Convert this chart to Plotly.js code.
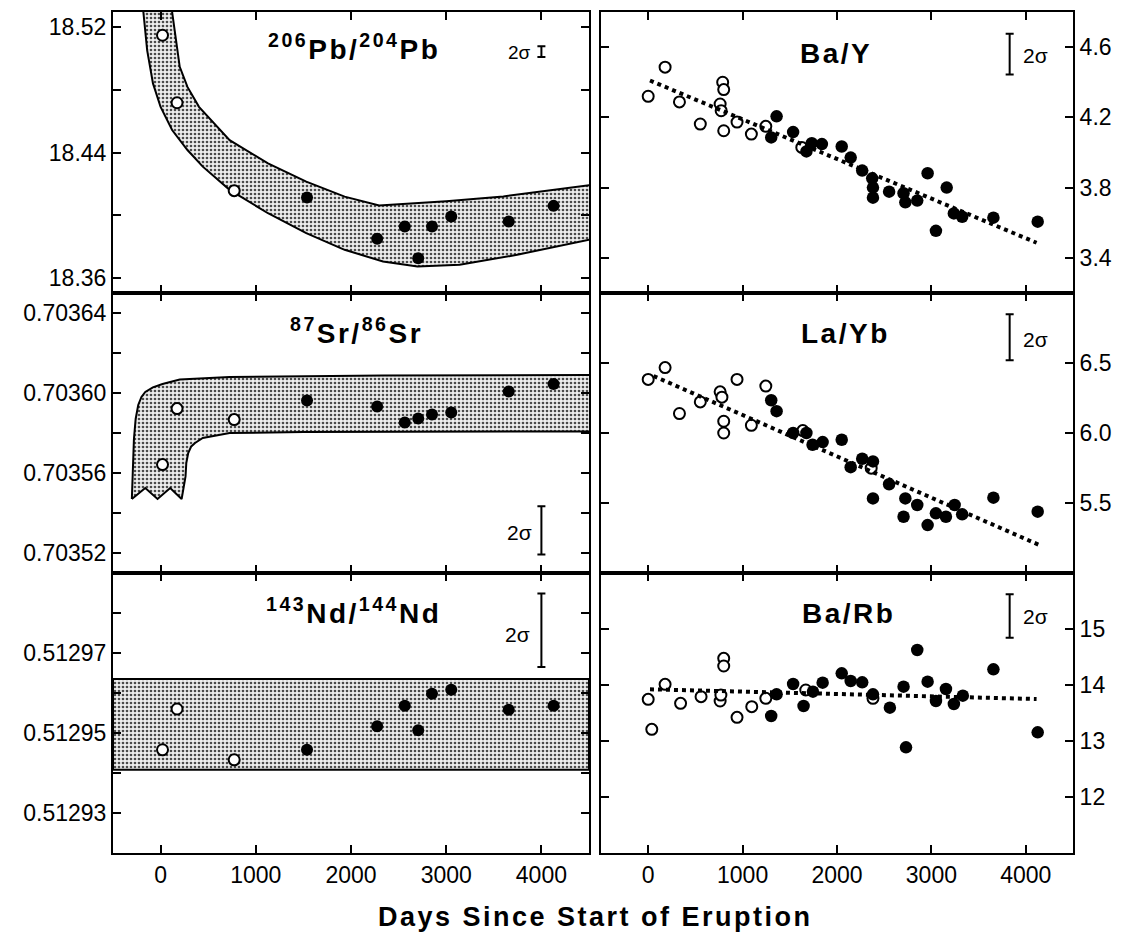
<!DOCTYPE html>
<html><head><meta charset="utf-8">
<script src="https://cdn.plot.ly/plotly-3.0.1.min.js"></script>
<style>
html,body{margin:0;padding:0;background:#fff;}
#chart{width:1125px;height:934px;}
text tspan[style*="bold"]{letter-spacing:2.5px;}
</style></head><body><div id="chart"></div>
<script>
// ---------- shared x ticks ----------
const xTicks = [0, 1000, 2000, 3000, 4000];
const xTickLabels = ['0', '1000', '2000', '3000', '4000'];

// ---------- 206Pb/204Pb ----------
const pbOpenX = [20, 173, 773];
const pbOpenY = [18.5147, 18.4717, 18.4157];
const pbFillX = [1538, 2275, 2565, 2706, 2851, 3053, 3657, 4128];
const pbFillY = [18.4113, 18.385, 18.3928, 18.3727, 18.3928, 18.3992, 18.396, 18.406];
const pbBandUpperX = [100, 121, 201, 282, 403, 564, 725, 1128, 1530, 1933, 2296, 3000, 3600, 4550];
const pbBandUpperY = [18.58, 18.5295, 18.4946, 18.4818, 18.4691, 18.4585, 18.4479, 18.4331, 18.4214, 18.4119, 18.4062, 18.409, 18.412, 18.4195];
const pbBandLowerX = [4550, 3745, 3141, 2698, 2336, 1933, 1530, 1128, 725, 443, 282, 121, 0, -80, -141, -181, -200];
const pbBandLowerY = [18.385, 18.3748, 18.3685, 18.3674, 18.3706, 18.378, 18.3886, 18.4013, 18.4162, 18.431, 18.4416, 18.4543, 18.469, 18.484, 18.505, 18.5295, 18.58];

// ---------- 87Sr/86Sr ----------
const srOpenX = [20, 173, 773];
const srOpenY = [0.7035642, 0.7035922, 0.7035867];
const srFillX = [1538, 2275, 2565, 2706, 2851, 3053, 3657, 4128];
const srFillY = [0.7035963, 0.7035933, 0.7035853, 0.7035872, 0.7035893, 0.7035903, 0.7036008, 0.7036045];
const srBandX = [-302, -292, -280, -262, -235, -201, -161, -81, 20, 201, 725, 2336, 4550,
                 4550, 1500, 725, 443, 362, 322, 290, 270, 262, 221,
                 101, -32, -161, -302];
const srBandY = [0.703547, 0.703562, 0.703577, 0.703587, 0.703594, 0.703598, 0.7036005, 0.7036028, 0.7036045, 0.7036067, 0.703608, 0.7036088, 0.703609,
                 0.7035808, 0.7035805, 0.70358, 0.7035775, 0.703575, 0.7035733, 0.70357, 0.703565, 0.7035583, 0.703547,
                 0.7035525, 0.703547, 0.7035525, 0.703547];

// ---------- 143Nd/144Nd ----------
const ndOpenX = [20, 173, 773];
const ndOpenY = [0.5129458, 0.512956, 0.5129433];
const ndFillX = [1538, 2275, 2565, 2706, 2851, 3053, 3657, 4128];
const ndFillY = [0.5129458, 0.5129517, 0.5129568, 0.5129507, 0.5129598, 0.5129608, 0.5129558, 0.5129568];
const ndBandX = [-500, 4500, 4500, -500, -500];
const ndBandY = [0.5129408, 0.5129408, 0.5129635, 0.5129635, 0.5129408];

// ---------- Ba/Y ----------
const byOpenX = [0, 179, 331, 552, 762, 789, 800, 773, 800, 941, 1093, 1246, 1627];
const byOpenY = [4.32, 4.486, 4.288, 4.162, 4.276, 4.4, 4.358, 4.238, 4.124, 4.173, 4.105, 4.149, 4.029];
const byFillX = [1303, 1360, 1535, 1676, 1733, 1840, 2050, 2145, 2267, 2373, 2381, 2381, 2552, 2705, 2724, 2850, 2960, 3048, 3162, 3238, 3326, 3657, 4126];
const byFillY = [4.086, 4.206, 4.116, 4.006, 4.053, 4.048, 4.034, 3.971, 3.897, 3.853, 3.8, 3.743, 3.777, 3.768, 3.716, 3.726, 3.882, 3.554, 3.8, 3.653, 3.634, 3.629, 3.606];
const byTrendX = [19, 4114];
const byTrendY = [4.41, 3.486];

// ---------- La/Yb ----------
const lyOpenX = [0, 179, 331, 552, 762, 781, 800, 800, 941, 1093, 1246, 1638, 2362];
const lyOpenY = [6.383, 6.467, 6.139, 6.222, 6.294, 6.256, 6.084, 6.0, 6.383, 6.055, 6.335, 6.017, 5.749];
const lyFillX = [1303, 1360, 1535, 1676, 1741, 1848, 2050, 2145, 2267, 2381, 2381, 2552, 2705, 2724, 2850, 2960, 3048, 3154, 3246, 3326, 3657, 4126];
const lyFillY = [6.234, 6.156, 6.0, 6.0, 5.916, 5.935, 5.952, 5.756, 5.816, 5.797, 5.533, 5.634, 5.402, 5.533, 5.486, 5.342, 5.426, 5.402, 5.486, 5.419, 5.538, 5.438];
const lyTrendX = [57, 4133];
const lyTrendY = [6.407, 5.203];

// ---------- Ba/Rb ----------
const brOpenX = [0, 38, 179, 343, 560, 762, 770, 800, 800, 941, 1097, 1246, 1669, 2381];
const brOpenY = [13.744, 13.208, 14.012, 13.673, 13.792, 13.714, 13.821, 14.476, 14.339, 13.423, 13.613, 13.762, 13.911, 13.762];
const brFillX = [1303, 1360, 1535, 1646, 1745, 1848, 2050, 2145, 2267, 2381, 2560, 2705, 2731, 2850, 2960, 3048, 3154, 3238, 3333, 3657, 4126];
const brFillY = [13.446, 13.833, 14.018, 13.625, 13.881, 14.042, 14.208, 14.071, 14.048, 13.833, 13.595, 13.97, 12.887, 14.625, 14.06, 13.714, 13.929, 13.661, 13.81, 14.28, 13.155];
const brTrendX = [19, 4114];
const brTrendY = [13.923, 13.75];

// ---------- 2 sigma bars (panel order: Pb, Ba/Y, Sr, La/Yb, Nd, Ba/Rb) ----------
const sigmaBarX = [4000, 3829, 4000, 3829, 4000, 3829];
const sigmaBarMid = [18.5043, 4.56, 0.7035313, 6.684, 0.5129757, 15.232];
const sigmaBarHalf = [0.0034, 0.116, 0.0000121, 0.165, 0.0000092, 0.387];
const sigmaLabel = '2σ';

// ---------- axis ticks ----------
const yRanges = [[18.3505, 18.5295], [3.2, 4.8], [0.70351, 0.70365], [5.0, 7.0], [0.51292, 0.51299], [11, 16]];
const yMajorVals = [
  [18.36, 18.44, 18.52],
  [3.4, 3.8, 4.2, 4.6],
  [0.70352, 0.70356, 0.70360, 0.70364],
  [5.5, 6.0, 6.5],
  [0.51293, 0.51295, 0.51297],
  [12, 13, 14, 15]
];
const yMajorText = [
  ['18.36', '18.44', '18.52'],
  ['3.4', '3.8', '4.2', '4.6'],
  ['0.70352', '0.70356', '0.70360', '0.70364'],
  ['5.5', '6.0', '6.5'],
  ['0.51293', '0.51295', '0.51297'],
  ['12', '13', '14', '15']
];
const yMinorVals = [
  [18.40, 18.48],
  [],
  [0.70354, 0.70358, 0.70362],
  [],
  [0.51294, 0.51296, 0.51298],
  []
];
const panelTitles = [
  '<b><sup>206</sup>Pb/<sup>204</sup>Pb</b>',
  '<b>Ba/Y</b>',
  '<b><sup>87</sup>Sr/<sup>86</sup>Sr</b>',
  '<b>La/Yb</b>',
  '<b><sup>143</sup>Nd/<sup>144</sup>Nd</b>',
  '<b>Ba/Rb</b>'
];
const xTitle = '<b>Days Since Start of Eruption</b>';

// ---------- build ----------
const ax = i => (i === 0 ? '' : String(i + 1));
const traces = [];
function band(i, x, y) {
  traces.push({x: x, y: y, xaxis: 'x' + ax(i), yaxis: 'y' + ax(i),
    fill: 'toself', mode: 'lines', line: {color: 'black', width: 2},
    fillcolor: '#cfcfcf',
    fillpattern: {shape: '.', size: 4, solidity: 0.35, fgcolor: '#4a4a4a', bgcolor: '#eeeeee'},
    hoverinfo: 'skip'});
}
function openPts(i, x, y, big) {
  traces.push({x: x, y: y, xaxis: 'x' + ax(i), yaxis: 'y' + ax(i), mode: 'markers', cliponaxis: false,
    marker: {symbol: 'circle', size: big ? 11 : 11, color: 'white', line: {color: 'black', width: 2}}});
}
function fillPts(i, x, y, big) {
  traces.push({x: x, y: y, xaxis: 'x' + ax(i), yaxis: 'y' + ax(i), mode: 'markers', cliponaxis: false,
    marker: {symbol: 'circle', size: big ? 12.5 : 12, color: 'black', line: {width: 0}}});
}
function trend(i, x, y) {
  traces.push({x: x, y: y, xaxis: 'x' + ax(i), yaxis: 'y' + ax(i), mode: 'lines',
    line: {color: 'black', width: 4, dash: '4px,4px'}});
}
function sigma(i) {
  traces.push({x: [sigmaBarX[i]], y: [sigmaBarMid[i]], xaxis: 'x' + ax(i), yaxis: 'y' + ax(i), mode: 'markers',
    marker: {size: 1, color: 'rgba(0,0,0,0)'},
    error_y: {type: 'data', array: [sigmaBarHalf[i]], visible: true, color: 'black', thickness: 2, width: 4}});
}

// Pb (0)
band(0, pbBandUpperX.concat(pbBandLowerX), pbBandUpperY.concat(pbBandLowerY));
openPts(0, pbOpenX, pbOpenY, false); fillPts(0, pbFillX, pbFillY, false); sigma(0);
// Ba/Y (1)
openPts(1, byOpenX, byOpenY, true); trend(1, byTrendX, byTrendY); fillPts(1, byFillX, byFillY, true); sigma(1);
// Sr (2)
band(2, srBandX, srBandY);
openPts(2, srOpenX, srOpenY, false); fillPts(2, srFillX, srFillY, false); sigma(2);
// La/Yb (3)
openPts(3, lyOpenX, lyOpenY, true); trend(3, lyTrendX, lyTrendY); fillPts(3, lyFillX, lyFillY, true); sigma(3);
// Nd (4)
band(4, ndBandX, ndBandY);
openPts(4, ndOpenX, ndOpenY, false); fillPts(4, ndFillX, ndFillY, false); sigma(4);
// Ba/Rb (5)
openPts(5, brOpenX, brOpenY, true); trend(5, brTrendX, brTrendY); fillPts(5, brFillX, brFillY, true); sigma(5);

const FONT = 'Liberation Sans, Arial, Helvetica, sans-serif';
const layout = {
  width: 1125, height: 934, margin: {l: 0, r: 0, t: 0, b: 0}, showlegend: false,
  paper_bgcolor: 'white', plot_bgcolor: 'white',
  font: {family: FONT, size: 23, color: 'black'},
  annotations: []
};
const xDom = [[0.10044, 0.52356], [0.53422, 0.95378]];
const yDom = [[0.68630, 0.98715], [0.38651, 0.68630], [0.08672, 0.38651]];
const common = {ticks: 'inside', ticklen: 8, tickwidth: 2, tickcolor: 'black', showline: true, linewidth: 2,
  linecolor: 'black', mirror: 'ticks', showgrid: false, zeroline: false, automargin: false, fixedrange: true,
  tickfont: {family: FONT, size: 23, color: 'black'}};
for (let i = 0; i < 6; i++) {
  const col = i % 2, row = Math.floor(i / 2), n = ax(i);
  layout['xaxis' + n] = Object.assign({}, common, {domain: xDom[col], anchor: 'y' + n, range: [-500, 4500],
    tickmode: 'array', tickvals: xTicks, ticktext: xTickLabels, showticklabels: row === 2});
  const yax = Object.assign({}, common, {domain: yDom[row], anchor: 'x' + n, side: col === 0 ? 'left' : 'right',
    range: yRanges[i], tickmode: 'array', tickvals: yMajorVals[i], ticktext: yMajorText[i]});
  if (yMinorVals[i].length) {
    yax.minor = {tickmode: 'array', tickvals: yMinorVals[i], ticks: 'inside', ticklen: 8, tickwidth: 2,
      tickcolor: 'black', showgrid: false};
  }
  layout['yaxis' + n] = yax;
}
const titlePos = [[0.506, 0.875], [0.498, 0.854], [0.511, 0.864], [0.519, 0.854], [0.506, 0.864], [0.524, 0.854]];
for (let i = 0; i < 6; i++) {
  layout.annotations.push({text: panelTitles[i], xref: 'x' + ax(i) + ' domain', yref: 'y' + ax(i) + ' domain',
    x: titlePos[i][0], y: titlePos[i][1], xanchor: 'center', yanchor: 'middle', showarrow: false,
    font: {family: FONT, size: 28, color: 'black'}});
}
// 2 sigma labels
const sigLabelPos = [[3908, 18.504, 'right'], [3950, 4.554, 'left'], [3918, 0.70353, 'right'],
                     [3950, 6.67, 'left'], [3898, 0.5129746, 'right'], [3950, 15.22, 'left']];
for (let i = 0; i < 6; i++) {
  layout.annotations.push({text: sigmaLabel, xref: 'x' + ax(i), yref: 'y' + ax(i),
    x: sigLabelPos[i][0], y: sigLabelPos[i][1], xanchor: sigLabelPos[i][2], yanchor: 'middle', showarrow: false,
    font: {family: FONT, size: i === 0 ? 19 : 21, color: 'black'}});
}
layout.annotations.push({text: xTitle, xref: 'paper', yref: 'paper', x: 0.5289, y: 0.0182,
  xanchor: 'center', yanchor: 'middle', showarrow: false, font: {family: FONT, size: 27, color: 'black'}});

Plotly.newPlot('chart', traces, layout, {staticPlot: true, displayModeBar: false});
</script></body></html>
